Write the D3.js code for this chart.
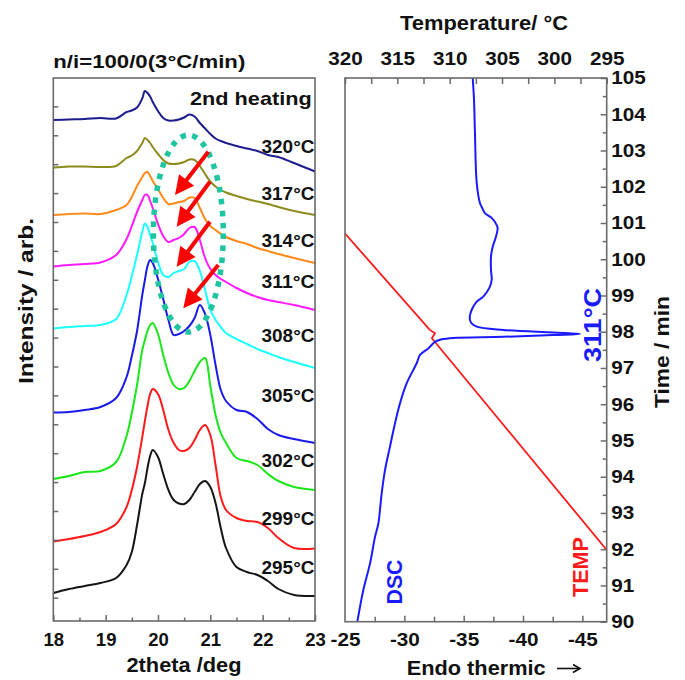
<!DOCTYPE html>
<html><head><meta charset="utf-8">
<script src="https://cdn.jsdelivr.net/npm/d3@7"></script>
<style>
body{margin:0;background:#fff;}
text{font-family:"Liberation Sans",Arial,sans-serif;font-weight:bold;}
</style>
</head><body>
<svg id="c" width="685" height="680"></svg>
<script>
// ---------------- DATA ----------------
const twoTheta = [18.0,18.3,18.6,18.9,19.2,19.4,19.5,19.6,19.7,19.75,19.8,19.85,19.9,20.0,20.1,20.2,20.3,20.4,20.5,20.6,20.7,20.8,20.9,21.0,21.1,21.2,21.3,21.5,21.7,21.9,22.1,22.3,22.6,23.0];
const xrd320 = [48.0,48.05,48.1,48.2,48.15,48.8,48.95,49.25,50.15,50.9,50.7,50.35,49.8,48.9,48.2,47.95,47.95,48.05,48.25,48.55,48.35,47.7,47.15,46.6,46.15,45.9,45.7,45.4,45.15,44.9,44.5,44.3,43.7,42.85];
const xrd317 = [43.25,43.35,43.35,43.3,43.4,44.2,44.45,44.9,45.7,46.2,46.0,45.7,45.3,44.6,44.0,43.65,43.6,43.65,43.8,44.05,44.0,43.4,42.6,41.85,41.35,41.0,40.75,40.4,40.1,39.85,39.6,39.3,38.9,38.5];
const xrd314 = [38.5,38.6,38.65,38.6,39.0,39.5,40.3,41.4,42.3,42.7,42.8,42.4,41.9,41.1,40.2,39.6,39.65,39.8,39.9,40.25,40.2,39.2,38.1,37.4,37.0,36.6,36.3,35.9,35.6,35.2,34.9,34.6,34.2,33.7];
const xrd311 = [33.35,33.5,33.6,33.75,34.5,36.1,37.4,38.8,40.0,40.5,40.5,39.9,39.2,37.6,36.4,35.8,36.0,36.2,36.6,37.2,37.3,36.0,34.2,33.1,32.5,32.1,31.8,31.2,30.7,30.3,30.0,29.8,29.5,29.0];
const xrd308 = [27.15,27.3,27.4,27.5,28.1,30.5,32.4,34.5,36.8,37.65,37.3,36.5,35.7,33.8,32.5,32.3,32.7,32.9,33.1,33.8,33.9,32.9,31.0,29.0,28.0,27.3,26.7,26.1,25.6,25.1,24.7,24.3,23.8,23.2];
const xrd305 = [18.75,18.8,19.0,19.3,20.2,22.3,24.4,26.9,30.5,32.0,33.4,34.0,33.7,32.1,30.1,28.0,26.5,26.6,26.9,27.4,28.2,29.5,28.6,26.5,23.5,21.0,19.9,19.0,18.8,18.1,17.1,16.5,16.1,15.7];
const xrd302 = [12.1,12.4,12.8,12.9,13.8,16.4,18.7,21.5,25.0,26.0,26.9,27.5,27.7,26.6,24.5,22.7,21.5,21.1,21.2,21.9,22.9,23.8,24.2,21.4,18.5,16.7,15.7,14.2,13.9,13.5,12.6,11.9,11.3,11.0];
const xrd299 = [5.85,6.1,6.4,6.8,7.6,9.3,11.0,13.3,16.3,17.9,19.4,20.6,21.1,20.6,19.0,17.0,15.7,15.0,14.9,15.2,16.0,17.0,17.5,16.5,13.5,10.3,9.0,8.2,7.9,7.8,7.2,6.2,5.2,5.15];
const xrd295 = [0.7,1.1,1.4,1.7,2.2,3.5,4.8,7.5,10.6,11.7,13.2,14.4,15.0,14.3,12.6,11.0,10.0,9.65,9.6,10.0,10.8,11.6,11.9,11.3,9.7,7.2,5.2,3.3,2.8,2.5,1.9,1.1,0.5,0.4];
const sampleTemps = ["320","317","314","311","308","305","302","299","295"];
const labelLevels = [44.7,40.0,35.3,31.2,25.8,19.8,13.3,7.5,2.6];
const xrdSeries = [xrd320,xrd317,xrd314,xrd311,xrd308,xrd305,xrd302,xrd299,xrd295];
const xTickLabels = [18,19,20,21,22,23];

// highlight annotations (data coordinates)
const ellipseCenter = [20.58, 36.65];
const ellipseRadius = [0.668, 9.85];
const arrowStarts = [[20.961,44.83],[20.993,41.83],[20.993,37.83],[21.152,33.5]];
const arrowEnds   = [[20.325,40.5],[20.357,37.33],[20.357,33.33],[20.483,29.17]];

// DSC trace: endotherm (x) vs time (y)
const dscEndo = [-35.76,-35.87,-35.95,-36.10,-36.37,-36.57,-36.79,-37.36,-37.78,-37.86,-37.72,-37.44,-37.30,-37.30,-37.36,-37.16,-36.65,-36.10,-35.67,-35.53,-35.53,-35.67,-36.10,-38.34,-42.55,-44.8,-42.55,-38.34,-34.12,-33.15,-32.58,-32.02,-31.32,-31.04,-30.20,-29.63,-29.21,-28.79,-28.37,-28.09,-27.81,-27.53,-27.11,-26.54,-26.04];
const dscTime = [105,104.4,103.48,102.10,101.55,101.41,101.27,101.14,100.94,100.86,100.62,100.34,100.07,99.70,99.43,99.21,98.97,98.83,98.60,98.45,98.32,98.23,98.14,98.05,97.98,97.94,97.91,97.86,97.83,97.79,97.72,97.54,97.36,97.13,96.58,96.02,95.47,94.83,94.18,93.54,92.71,92.34,91.61,90.87,90.0];
// temperature program: temperature (top x) vs time
const tempValue = [320,311.9,311.4,311.7,295];
const tempTime = [100.71,98.05,97.96,97.82,91.98];
const tempTicks = [320,315,310,305,300,295];
const endoTicks = [-25,-30,-35,-40,-45];
const timeTicks = [90,91,92,93,94,95,96,97,98,99,100,101,102,103,104,105];

// ---------------- STYLE ----------------
const curveColors = ["#1c1c8c","#8c8c1e","#ff8a1a","#ff1aff","#1affff","#1a1ae8","#1ae61a","#ff1a1a","#151515"];
const frameColor = "#6a6a6a";
const dscColor = "#1a1aff", tempColor = "#ff1a1a", teal = "#1fc4a0";
const smooth = d3.curveCatmullRom.alpha(0.5);

const svg = d3.select('#c');

function txt(g, str, x, y, o={}) {
  let tf = `translate(${x},${y})`;
  if (o.rot) tf += ' rotate(-90)';
  const t = g.append('text').attr('transform', tf)
    .attr('font-size', o.size || 18.5)
    .attr('text-anchor', o.anchor || 'start')
    .attr('fill', o.fill || '#111').text(str);
  if (o.width) t.attr('textLength', o.width).attr('lengthAdjust', 'spacingAndGlyphs');
  return t;
}
function styleAxis(g, size, sx) {
  g.select('.domain').remove();
  g.selectAll('.tick line').attr('stroke', frameColor).attr('stroke-width', 1.5);
  g.selectAll('.tick text').attr('fill', '#111').attr('font-size', size)
    .attr('font-family', '"Liberation Sans",Arial,sans-serif').attr('font-weight', 'bold');
  if (sx) g.selectAll('.tick text').attr('transform', `scale(${sx},1)`);
}

// ================= LEFT PANEL =================
const L = {x0: 53.3, x1: 315, y0: 78, y1: 621};
const xL = d3.scaleLinear().domain([18, 23]).range([L.x0, L.x1]);
const yL = d3.scaleLinear().domain([-2.1, 52.2]).range([L.y1, L.y0]);
const gL = svg.append('g');

// curves
const lineL = d3.line().x((d, i) => xL(twoTheta[i])).y(d => yL(d)).curve(smooth);
xrdSeries.forEach((s, k) => {
  gL.append('path').attr('d', lineL(s)).attr('fill', 'none')
    .attr('stroke', curveColors[k]).attr('stroke-width', 2).attr('stroke-linejoin', 'round');
});

// dotted ellipse
gL.append('ellipse')
  .attr('cx', xL(ellipseCenter[0])).attr('cy', yL(ellipseCenter[1]))
  .attr('rx', xL(ellipseCenter[0] + ellipseRadius[0]) - xL(ellipseCenter[0]))
  .attr('ry', yL(ellipseCenter[1]) - yL(ellipseCenter[1] + ellipseRadius[1]))
  .attr('fill', 'none').attr('stroke', teal).attr('stroke-width', 5.5)
  .attr('stroke-dasharray', '5.5 6.5');

// red arrows
arrowStarts.forEach((s, i) => {
  const x1 = xL(s[0]), y1 = yL(s[1]), x2 = xL(arrowEnds[i][0]), y2 = yL(arrowEnds[i][1]);
  const dx = x2 - x1, dy = y2 - y1, len = Math.hypot(dx, dy), ux = dx / len, uy = dy / len;
  const hl = 19, hw = 9.5;
  const bx = x2 - ux * hl, by = y2 - uy * hl;
  gL.append('line').attr('x1', x1).attr('y1', y1).attr('x2', bx + ux * 2).attr('y2', by + uy * 2)
    .attr('stroke', '#ff0000').attr('stroke-width', 4);
  gL.append('path').attr('d', `M${x2},${y2}L${bx - uy * hw},${by + ux * hw}L${bx + uy * hw},${by - ux * hw}Z`)
    .attr('fill', '#ff0000');
});

// frame
gL.append('rect').attr('x', L.x0).attr('y', L.y0).attr('width', L.x1 - L.x0).attr('height', L.y1 - L.y0)
  .attr('fill', 'none').attr('stroke', frameColor).attr('stroke-width', 1.6);

// axes
const axLx = gL.append('g').attr('transform', `translate(0,${L.y1})`)
  .call(d3.axisBottom(xL).tickValues(xTickLabels).tickSizeInner(-6).tickSizeOuter(0).tickPadding(12).tickFormat(d3.format('d')));
styleAxis(axLx, 18.5);
const axLxm = gL.append('g').attr('transform', `translate(0,${L.y1})`)
  .call(d3.axisBottom(xL).tickValues(d3.range(18.5, 23, 1)).tickSizeInner(-3.5).tickSizeOuter(0).tickFormat(''));
styleAxis(axLxm);
const axLy = gL.append('g').attr('transform', `translate(${L.x0},0)`)
  .call(d3.axisLeft(yL).tickValues(d3.range(18).map(k => 0.23 + 2.89 * k)).tickSizeInner(-5).tickSizeOuter(0).tickFormat(''));
styleAxis(axLy);

// labels
sampleTemps.forEach((t, k) => {
  txt(gL, t + '°C', 314.5, yL(labelLevels[k]), {size: 17.5, anchor: 'end', width: 53});
});
txt(gL, 'n/i=100/0(3°C/min)', 53.3, 68, {size: 18, width: 192});
txt(gL, '2nd heating', 311.7, 105, {size: 18.5, anchor: 'end', width: 121.7});
txt(gL, '2theta /deg', 184, 672, {size: 20.5, anchor: 'middle', width: 115});
txt(gL, 'Intensity / arb.', 33, 301, {size: 21, anchor: 'middle', rot: true, width: 166});

// ================= RIGHT PANEL =================
const R = {x0: 345, x1: 606.7, y0: 78, y1: 621.7};
const xE = d3.scaleLinear().domain([-25, -47.05]).range([R.x0, R.x1]);
const xT = d3.scaleLinear().domain([320, 295]).range([R.x0, R.x1]);
const yT = d3.scaleLinear().domain([90, 105]).range([R.y1, R.y0]);
const gR = svg.append('g');
const clip = svg.append('clipPath').attr('id', 'clipR');
clip.append('rect').attr('x', R.x0).attr('y', R.y0).attr('width', R.x1 - R.x0).attr('height', R.y1 - R.y0);

gR.append('path')
  .attr('d', d3.line().x(d => xT(d[0])).y(d => yT(d[1]))(tempValue.map((v, i) => [v, tempTime[i]])))
  .attr('fill', 'none').attr('stroke', tempColor).attr('stroke-width', 1.8).attr('clip-path', 'url(#clipR)');
gR.append('path')
  .attr('d', d3.line().x(d => xE(d[0])).y(d => yT(d[1])).curve(smooth)(dscEndo.map((v, i) => [v, dscTime[i]])))
  .attr('fill', 'none').attr('stroke', dscColor).attr('stroke-width', 2).attr('stroke-linejoin', 'round').attr('clip-path', 'url(#clipR)');

gR.append('rect').attr('x', R.x0).attr('y', R.y0).attr('width', R.x1 - R.x0).attr('height', R.y1 - R.y0)
  .attr('fill', 'none').attr('stroke', frameColor).attr('stroke-width', 1.6);

const axTop = gR.append('g').attr('transform', `translate(0,${R.y0})`)
  .call(d3.axisTop(xT).tickValues(tempTicks).tickSizeInner(-6).tickSizeOuter(0).tickPadding(13).tickFormat(d3.format('d')));
styleAxis(axTop, 18.5, 1.12);
const axTopM = gR.append('g').attr('transform', `translate(0,${R.y0})`)
  .call(d3.axisTop(xT).tickValues(d3.range(317.5, 295, -5)).tickSizeInner(-6).tickSizeOuter(0).tickFormat(''));
styleAxis(axTopM);
const axBot = gR.append('g').attr('transform', `translate(0,${R.y1})`)
  .call(d3.axisBottom(xE).tickValues(endoTicks).tickSizeInner(-6).tickSizeOuter(0).tickPadding(11).tickFormat(d => String(d)));
styleAxis(axBot, 18.5, 1.12);
axBot.selectAll('.tick').filter(d => d === -25).select('line').remove();
const axBotM = gR.append('g').attr('transform', `translate(0,${R.y1})`)
  .call(d3.axisBottom(xE).tickValues(d3.range(-27.5, -47, -5)).tickSizeInner(-5).tickSizeOuter(0).tickFormat(''));
styleAxis(axBotM);
const axRt = gR.append('g').attr('transform', `translate(${R.x1},0)`)
  .call(d3.axisRight(yT).tickValues(timeTicks).tickSizeInner(-6).tickSizeOuter(0).tickPadding(4).tickFormat(d3.format('d')));
styleAxis(axRt, 18.5, 1.12);
const axRtM = gR.append('g').attr('transform', `translate(${R.x1},0)`)
  .call(d3.axisRight(yT).tickValues(d3.range(90.5, 105, 1)).tickSizeInner(-4).tickSizeOuter(0).tickFormat(''));
styleAxis(axRtM);

txt(gR, 'Temperature/ °C', 484, 30, {size: 19.5, anchor: 'middle', width: 168});
txt(gR, 'Endo thermic', 406.7, 675, {size: 20.5, width: 139});
// long arrow after "Endo thermic"
gR.append('line').attr('x1', 557).attr('y1', 668.5).attr('x2', 579).attr('y2', 668.5)
  .attr('stroke', '#111').attr('stroke-width', 1.6);
gR.append('path').attr('d', 'M573,664.5L580,668.5L573,672.5')
  .attr('fill', 'none').attr('stroke', '#111').attr('stroke-width', 1.6);
txt(gR, 'Time / min', 669, 352, {size: 20, anchor: 'middle', rot: true, width: 112});
txt(gR, 'DSC', 402, 582, {size: 22, anchor: 'middle', rot: true, width: 45, fill: dscColor});
txt(gR, 'TEMP', 588, 567, {size: 22, anchor: 'middle', rot: true, width: 60, fill: tempColor});
txt(gR, '311°C', 601, 325, {size: 24, anchor: 'middle', rot: true, width: 74, fill: dscColor});
</script>
</body></html>
